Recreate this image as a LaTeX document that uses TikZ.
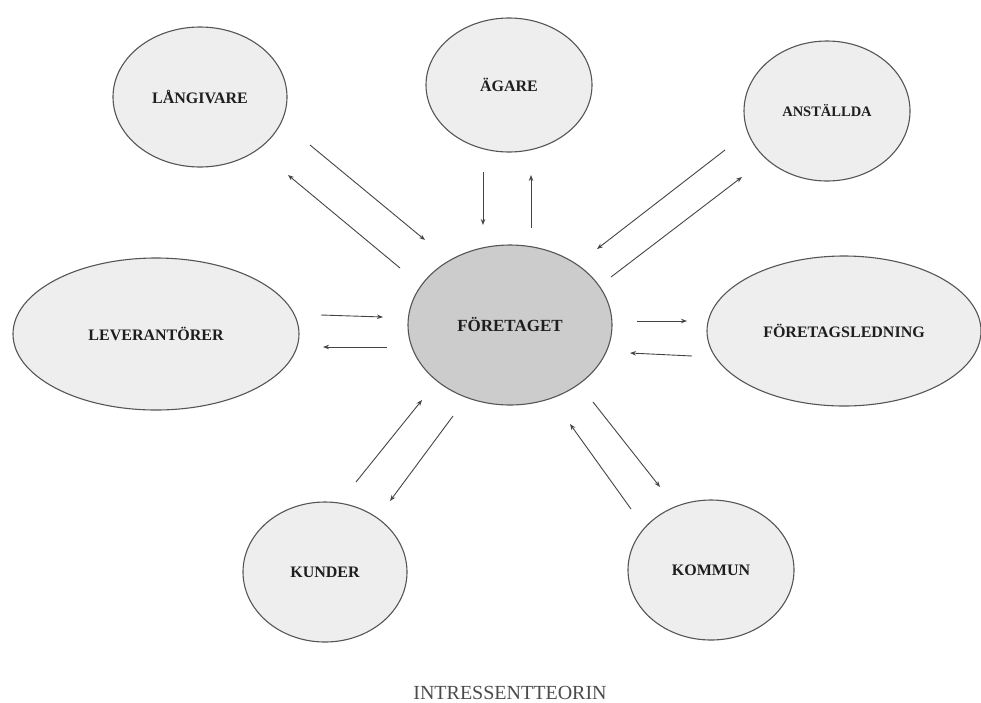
\documentclass[tikz,border=0pt]{standalone}
\usepackage{fontspec}
\setmainfont{Liberation Serif}
\usetikzlibrary{shapes.geometric,arrows.meta}
\definecolor{ellfill}{HTML}{EEEEEE}
\definecolor{corefill}{HTML}{CCCCCC}
\definecolor{edge}{HTML}{555555}
\definecolor{arrowcol}{HTML}{444444}
\definecolor{txt}{HTML}{1E1E1E}
\tikzset{
  party/.style={ellipse, draw=edge, line width=1.1pt, fill=ellfill, inner sep=0pt,
    text=txt, font=\fontsize{16}{18}\selectfont\bfseries},
  core/.style={party, fill=corefill, font=\fontsize{17}{19}\selectfont\bfseries},
  flow/.style={draw=arrowcol, line width=0.9pt, -{Stealth[length=6pt,width=4.5pt]}},
  caption/.style={text=txt!80, font=\fontsize{20}{22}\selectfont}
}
\begin{document}
\begin{tikzpicture}[x=1pt,y=-1pt]
\useasboundingbox (0,0) rectangle (981,702);
% nodes
\node[party, minimum width=174pt, minimum height=140pt] (lang) at (200,97) {LÅNGIVARE};
\node[party, minimum width=166pt, minimum height=134pt] (agare) at (509,85) {ÄGARE};
\node[party, minimum width=166pt, minimum height=140pt, font=\fontsize{14.5}{16}\selectfont\bfseries] (anst) at (827,111) {ANSTÄLLDA};
\node[party, minimum width=286pt, minimum height=152pt] (lev) at (156,334) {LEVERANTÖRER};
\node[core, minimum width=204pt, minimum height=160pt] (for) at (510,325) {FÖRETAGET};
\node[party, minimum width=274pt, minimum height=150pt] (fl) at (844,331) {FÖRETAGSLEDNING};
\node[party, minimum width=164pt, minimum height=140pt] (kund) at (325,572) {KUNDER};
\node[party, minimum width=166pt, minimum height=140pt] (komm) at (711,570) {KOMMUN};
\node[caption] (cap) at (510,693) {INTRESSENTTEORIN};
% connector end points
\coordinate (a1s) at (310,145); \coordinate (a1e) at (425,240);
\coordinate (a2s) at (400,268); \coordinate (a2e) at (288,175);
\coordinate (a3s) at (483,172); \coordinate (a3e) at (483,225);
\coordinate (a4s) at (531,228); \coordinate (a4e) at (531,175);
\coordinate (a5s) at (725,150); \coordinate (a5e) at (597,249);
\coordinate (a6s) at (611,277); \coordinate (a6e) at (742,177);
\coordinate (a7s) at (321,315); \coordinate (a7e) at (383,317);
\coordinate (a8s) at (387,347); \coordinate (a8e) at (323,347);
\coordinate (a9s) at (637,321); \coordinate (a9e) at (687,321);
\coordinate (a10s) at (692,356); \coordinate (a10e) at (630,353);
\coordinate (a11s) at (356,482); \coordinate (a11e) at (422,400);
\coordinate (a12s) at (453,416); \coordinate (a12e) at (390,501);
\coordinate (a13s) at (631,509); \coordinate (a13e) at (570,424);
\coordinate (a14s) at (593,402); \coordinate (a14e) at (660,487);
% connectors
\foreach \i in {1,...,14} {\draw[flow] (a\i s) -- (a\i e);}
\end{tikzpicture}
\end{document}
